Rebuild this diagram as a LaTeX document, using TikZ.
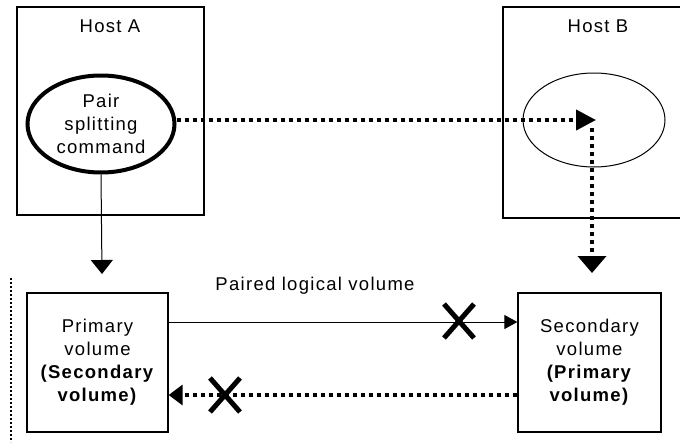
\documentclass[tikz,border=0pt]{standalone}
\usepackage{fontspec}
\setmainfont{Liberation Sans}[LetterSpace=7]
\usetikzlibrary{arrows.meta,shapes,positioning}

\begin{document}
\begin{tikzpicture}[x=1pt, y=-1pt, font=\fontsize{18.5}{23}\selectfont,
  box/.style={draw, line width=1.3pt, inner sep=0},
  oval/.style={ellipse, draw, inner sep=0},
  bigdots/.style={line width=4pt, dash pattern=on 4pt off 4pt},
  tip/.style={-{Triangle[length=#1]}},
  nogo/.style={cross out, draw, line width=5pt, minimum width=25pt, minimum height=29pt, inner sep=0}]
\useasboundingbox (0,0) rectangle (680,442);
\node[box, minimum width=187pt, minimum height=208pt] (1) at (110.5,111) {};
\node (1t) at (110,26) {Host A};
\node[oval, line width=4pt, minimum width=147pt, minimum height=97pt, align=center] (2) at (101,124) {Pair\\splitting\\command};
\node[box, minimum width=197pt, minimum height=211pt] (3) at (601.5,112.5) {};
\node (3t) at (598,26) {Host B};
\node[oval, line width=1pt, minimum width=142pt, minimum height=94pt] (4) at (594,120) {};
\node[box, minimum width=141pt, minimum height=139pt, align=center] (5) at (97.5,362.5) {Primary\\volume\\\textbf{(Secondary}\\\textbf{volume)}};
\node[box, minimum width=143pt, minimum height=139pt, align=center] (6) at (589.5,362.5) {Secondary\\volume\\\textbf{(Primary}\\\textbf{volume)}};
\node (9) at (315,286) {Paired logical volume};
\coordinate (a) at (102,274);
\coordinate (b) at (596,120);
\coordinate (c) at (592,128);
\coordinate (d) at (592,273);
% host A side
\draw[tip={14pt, width=22pt}, line width=1pt] (2.south) -- (a);
\draw[tip={20pt, width=20pt}, bigdots] (2.east |- b) -- (b);
\draw[tip={17pt, width=28pt}, bigdots] (c) -- (d);
% volume pair
\draw[tip={13pt, width=14pt}, line width=1pt] ([yshift=40.5pt]5.east) -- ([yshift=40.5pt]6.west);
\draw[tip={14pt, width=20pt}, bigdots] ([yshift=-32.5pt]6.west) -- ([yshift=-32.5pt]5.east);
\node[nogo] (7) at (459,321) {};
\node[nogo] (8) at (225,395) {};
\draw[line width=1.2pt, dash pattern=on 2pt off 2pt] (11,278) -- (11,442);
\end{tikzpicture}
\end{document}
